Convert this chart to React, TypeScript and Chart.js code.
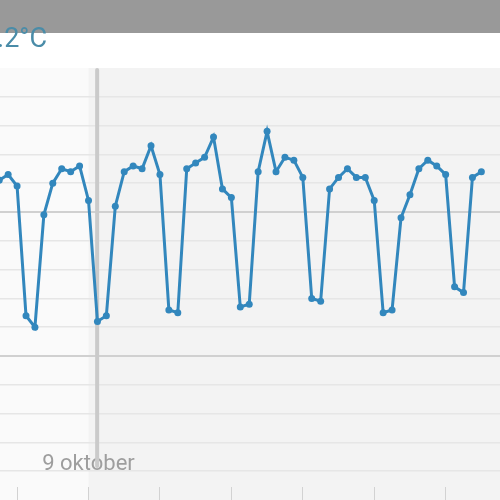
import { useEffect, useRef } from 'react';
import { Chart, registerables } from 'chart.js';

Chart.register(...registerables);

// hours relative to midnight of 9 October
const hours = [
  -30, -27, -24, -21, -18, -15, -12, -9, -6, -3,
  0, 3, 6, 9, 12, 15, 18, 21, 24, 27,
  30, 33, 36, 39, 42, 45, 48, 51, 54, 57,
  60, 63, 66, 69, 72, 75, 78, 81, 84, 87,
  90, 93, 96, 99, 102, 105, 108, 111, 114, 117,
  120, 123, 126, 129, 132,
];

const temps = [
  11.1, 11.3, 10.9, 6.4, 6.0, 9.9, 11.0, 11.5, 11.4, 11.6,
  10.4, 6.2, 6.4, 10.2, 11.4, 11.6, 11.5, 12.3, 11.3, 6.6,
  6.5, 11.5, 11.7, 11.9, 12.6, 10.8, 10.5, 6.7, 6.8, 11.4,
  12.8, 11.4, 11.9, 11.8, 11.2, 7.0, 6.9, 10.8, 11.2, 11.5,
  11.2, 11.2, 10.4, 6.5, 6.6, 9.8, 10.6, 11.5, 11.8, 11.6,
  11.3, 7.4, 7.2, 11.2, 11.4,
];

const xTickHours = [-24, 0, 24, 48, 72, 96, 120];
const yGridValues = [1, 2, 3, 4, 5, 6, 7, 8, 9, 10, 11, 12, 13, 14];
const dayLabel = '9 oktober';
const dayLabelHour = 0;
const headerText = '12.2°C';
const nowHour = 2.9;

const xMin = -29.74;
const xMax = 138.26;
const yMin = 0.45;
const yMax = 15;

const lineColor = '#3287bd';

const backgroundPlugin = {
  id: 'bgPlugin',
  beforeDraw(chart: any) {
    const { ctx, chartArea, width, height } = chart;
    const xs = chart.scales.x;
    const split = xs.getPixelForValue(dayLabelHour);
    ctx.save();
    ctx.fillStyle = '#ffffff';
    ctx.fillRect(0, 0, width, height);
    ctx.fillStyle = '#fafafa';
    ctx.fillRect(0, chartArea.top, split, height - chartArea.top);
    ctx.fillStyle = '#f3f3f3';
    ctx.fillRect(split, chartArea.top, width - split, height - chartArea.top);
    ctx.fillStyle = '#999999';
    ctx.fillRect(0, 0, width, 33);
    ctx.fillStyle = '#4a8ca8';
    ctx.font = '27px Roboto';
    ctx.textAlign = 'right';
    ctx.textBaseline = 'alphabetic';
    ctx.fillText(headerText, 47, 47);
    ctx.restore();
  },
  beforeDatasetsDraw(chart: any) {
    const { ctx, chartArea } = chart;
    const xs = chart.scales.x;
    ctx.save();
    ctx.fillStyle = '#9e9e9e';
    ctx.font = '22px Roboto';
    ctx.textAlign = 'center';
    ctx.textBaseline = 'alphabetic';
    ctx.fillText(dayLabel, xs.getPixelForValue(dayLabelHour), 470);
    const nx = xs.getPixelForValue(nowHour);
    ctx.strokeStyle = '#cacaca';
    ctx.lineWidth = 4;
    ctx.lineCap = 'round';
    ctx.beginPath();
    ctx.moveTo(nx, chartArea.top + 2);
    ctx.lineTo(nx, 466);
    ctx.stroke();
    ctx.restore();
  },
};

export default function App() {
  const canvasRef = useRef<HTMLCanvasElement | null>(null);

  useEffect(() => {
    if (!canvasRef.current) return;
    const chart = new Chart(canvasRef.current, {
      type: 'line',
      data: {
        datasets: [
          {
            data: hours.map((h, i) => ({ x: h, y: temps[i] })),
            borderColor: lineColor,
            backgroundColor: lineColor,
            borderWidth: 3,
            pointRadius: 3.5,
            pointBackgroundColor: lineColor,
            pointBorderWidth: 0,
            tension: 0,
            fill: false,
          },
        ],
      },
      options: {
        animation: false,
        responsive: false,
        maintainAspectRatio: false,
        layout: { padding: { top: 68, left: 0, right: 0, bottom: 0 }, autoPadding: false },
        plugins: {
          legend: { display: false },
          tooltip: { enabled: false },
          title: { display: false },
        },
        scales: {
          x: {
            type: 'linear',
            min: xMin,
            max: xMax,
            afterBuildTicks: (s: any) => {
              s.ticks = xTickHours.map((v) => ({ value: v }));
            },
            ticks: { display: false },
            grid: {
              drawOnChartArea: false,
              drawTicks: true,
              tickLength: 13,
              color: '#d2d2d2',
              lineWidth: 1,
            },
            border: { display: false },
          },
          y: {
            type: 'linear',
            min: yMin,
            max: yMax,
            afterBuildTicks: (s: any) => {
              s.ticks = yGridValues.map((v) => ({ value: v }));
            },
            ticks: { display: false },
            grid: {
              drawTicks: false,
              color: (c: any) => (c.tick && c.tick.value % 5 === 0 ? '#d0d0d0' : '#e6e6e6'),
              lineWidth: (c: any) => (c.tick && c.tick.value % 5 === 0 ? 2 : 1.5),
            },
            border: { display: false },
          },
        },
      },
      plugins: [backgroundPlugin],
    });
    return () => chart.destroy();
  }, []);

  return (
    <div style={{ position: 'fixed', top: 0, left: 0, width: 500, height: 500 }}>
      <canvas ref={canvasRef} width={500} height={500} style={{ width: 500, height: 500, display: 'block' }} />
    </div>
  );
}
